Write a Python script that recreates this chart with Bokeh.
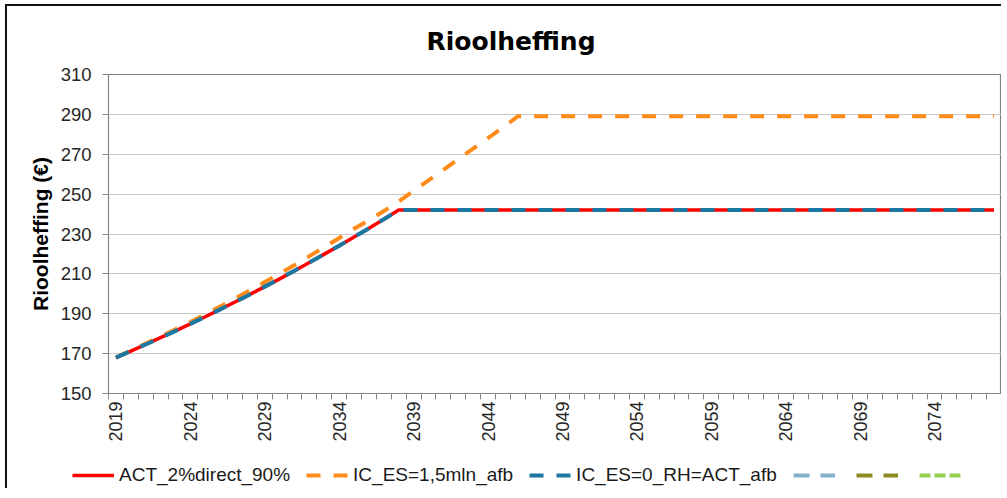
from bokeh.plotting import figure
from bokeh.models import FixedTicker, Legend, LegendItem
from bokeh.layouts import column
from bokeh.core.properties import value
from bokeh.embed import file_html
from bokeh.resources import INLINE
import math

NaN = float("nan")

# ---------------- data ----------------
title_text = "Rioolheffing"
y_label = "Rioolheffing (€)"

years = list(range(2019, 2079))

act_2pct_direct_90 = [
    168.0, 171.3, 174.6, 178.0, 181.4, 184.9, 188.5, 192.2, 195.9, 199.7,
    203.6, 207.5, 211.6, 215.7, 219.9, 224.1, 228.5, 232.9, 237.4, 242.0,
    242.0, 242.0, 242.0, 242.0, 242.0, 242.0, 242.0, 242.0, 242.0, 242.0,
    242.0, 242.0, 242.0, 242.0, 242.0, 242.0, 242.0, 242.0, 242.0, 242.0,
    242.0, 242.0, 242.0, 242.0, 242.0, 242.0, 242.0, 242.0, 242.0, 242.0,
    242.0, 242.0, 242.0, 242.0, 242.0, 242.0, 242.0, 242.0, 242.0, 242.0,
]

ic_es_15mln_afb = [
    168.0, 171.5, 175.0, 178.6, 182.2, 185.9, 189.7, 193.6, 197.6, 201.7,
    205.9, 210.1, 214.4, 218.9, 223.4, 228.0, 232.6, 237.0, 241.5, 246.3,
    251.6, 256.9, 262.2, 267.5, 272.8, 278.1, 283.4, 289.0, 289.0, 289.0,
    289.0, 289.0, 289.0, 289.0, 289.0, 289.0, 289.0, 289.0, 289.0, 289.0,
    289.0, 289.0, 289.0, 289.0, 289.0, 289.0, 289.0, 289.0, 289.0, 289.0,
    289.0, 289.0, 289.0, 289.0, 289.0, 289.0, 289.0, 289.0, 289.0, 289.0,
]

ic_es_0_rh_act_afb = [
    168.0, 171.3, 174.6, 178.0, 181.4, 184.9, 188.5, 192.2, 195.9, 199.7,
    203.6, 207.5, 211.6, 215.7, 219.9, 224.1, 228.5, 232.9, 237.4, 242.0,
    242.0, 242.0, 242.0, 242.0, 242.0, 242.0, 242.0, 242.0, 242.0, 242.0,
    242.0, 242.0, 242.0, 242.0, 242.0, 242.0, 242.0, 242.0, 242.0, 242.0,
    242.0, 242.0, 242.0, 242.0, 242.0, 242.0, 242.0, 242.0, 242.0, 242.0,
    242.0, 242.0, 242.0, 242.0, 242.0, 242.0, 242.0, 242.0, 242.0, 242.0,
]

# the three unnamed series in the legend carry no values
empty_series_4 = [NaN]
empty_series_5 = [NaN]
empty_series_6 = [NaN]

series_names = ["ACT_2%direct_90%", "IC_ES=1,5mln_afb", "IC_ES=0_RH=ACT_afb", "", "", ""]
series_colors = ["#ff0000", "#ff8c1a", "#1a78a3", "#80b2c9", "#8b8b22", "#92d050"]
series_dashes = ["solid", "14 13", "14 13", "16 11", "16 11", "11 4"]
series_widths = [3.5, 4, 4, 4, 4, 4]

x_tick_labels = ["2019", "2024", "2029", "2034", "2039", "2044",
                 "2049", "2054", "2059", "2064", "2069", "2074"]
y_ticks = [150, 170, 190, 210, 230, 250, 270, 290, 310]

# ---------------- main figure ----------------
FONT = "Liberation Sans"

p = figure(width=994, height=442,
           x_range=(years[0] - 0.5, years[-1] + 0.5), y_range=(150, 310),
           output_backend="svg", toolbar_location=None,
           title=title_text,
           min_border_left=101, min_border_right=0,
           min_border_top=68, min_border_bottom=55)
p.frame_align = False
p.background_fill_color = "white"
p.border_fill_color = "white"
p.outline_line_color = "#7f7f7f"
p.outline_line_width = 1.2

# title
p.title.align = "left"
p.title.offset = 318
p.title.standoff = 37
p.title.text_font = "DejaVu Sans"
p.title.text_font_size = "25px"
p.title.text_font_style = "bold"
p.title.text_color = "#000000"

# y axis
p.yaxis.ticker = FixedTicker(ticks=y_ticks)
p.yaxis.axis_line_color = "#868686"
p.yaxis.major_tick_line_color = "#868686"
p.yaxis.major_tick_out = 6
p.yaxis.major_tick_in = 0
p.yaxis.minor_tick_line_color = None
p.yaxis.major_label_standoff = 11
p.yaxis.major_label_text_font = FONT
p.yaxis.major_label_text_font_size = "18.5px"
p.yaxis.major_label_text_color = "#262626"
p.yaxis.axis_label = y_label
p.yaxis.axis_label_text_font = FONT
p.yaxis.axis_label_text_font_size = "21px"
p.yaxis.axis_label_text_font_style = "bold"
p.yaxis.axis_label_text_color = "#000000"
p.yaxis.axis_label_standoff = 6

# x axis: labels at every 5th category, tick marks between categories
label_years = [int(s) for s in x_tick_labels]
boundaries = [y - 0.5 for y in years] + [years[-1] + 0.5]
p.xaxis.ticker = FixedTicker(ticks=label_years, minor_ticks=boundaries)
p.xaxis.major_label_overrides = {int(s): s for s in x_tick_labels}
p.xaxis.axis_line_color = "#868686"
p.xaxis.major_tick_line_color = None
p.xaxis.major_tick_out = 6
p.xaxis.major_tick_in = 0
p.xaxis.minor_tick_line_color = "#868686"
p.xaxis.minor_tick_out = 6
p.xaxis.minor_tick_in = 0
p.xaxis.major_label_orientation = math.pi / 2
p.xaxis.major_label_standoff = 2
p.xaxis.major_label_text_font = FONT
p.xaxis.major_label_text_font_size = "18px"
p.xaxis.major_label_text_color = "#262626"

# grid
p.xgrid.grid_line_color = None
p.ygrid.ticker = FixedTicker(ticks=y_ticks)
p.ygrid.grid_line_color = "#c8c8c8"
p.ygrid.grid_line_width = 1.2

# series
series_values = [act_2pct_direct_90, ic_es_15mln_afb, ic_es_0_rh_act_afb]
for vals, c, d, w in zip(series_values, series_colors, series_dashes, series_widths):
    p.line(years, vals, line_color=c, line_width=w, line_dash=d)

# ---------------- legend strip ----------------
pl = figure(width=994, height=40, x_range=(0, 1), y_range=(0, 1),
            output_backend="svg", toolbar_location=None,
            x_axis_location=None, y_axis_location=None,
            min_border=0, min_border_left=0, min_border_right=0,
            min_border_top=0, min_border_bottom=0)
pl.frame_align = False
pl.outline_line_color = None
pl.background_fill_color = "white"
pl.border_fill_color = "white"
pl.grid.visible = False

legend_x = [years, years, years, [NaN], [NaN], [NaN]]
legend_y = [act_2pct_direct_90, ic_es_15mln_afb, ic_es_0_rh_act_afb,
            empty_series_4, empty_series_5, empty_series_6]
items = []
for xs, ys, n, c, d, w in zip(legend_x, legend_y, series_names, series_colors,
                              series_dashes, series_widths):
    # lines lie outside this strip's ranges; only their legend glyphs show
    r = pl.line(xs, ys, line_color=c, line_width=w, line_dash=d)
    items.append(LegendItem(label=value(n), renderers=[r]))

legend = Legend(items=items, orientation="horizontal", location=(65, 2),
                glyph_width=42, glyph_height=20, label_height=20, label_width=0,
                label_standoff=5, spacing=16, padding=0, margin=0,
                label_text_font=FONT, label_text_font_size="19px",
                label_text_color="#1a1a1a",
                border_line_color=None, background_fill_alpha=0)
pl.add_layout(legend, "center")

layout = column(p, pl, spacing=0,
                styles={"border-top": "2px solid #111111",
                        "border-left": "2px solid #111111",
                        "margin-left": "5px", "margin-top": "4px"})

open("out.html", "w").write(file_html(layout, INLINE))
